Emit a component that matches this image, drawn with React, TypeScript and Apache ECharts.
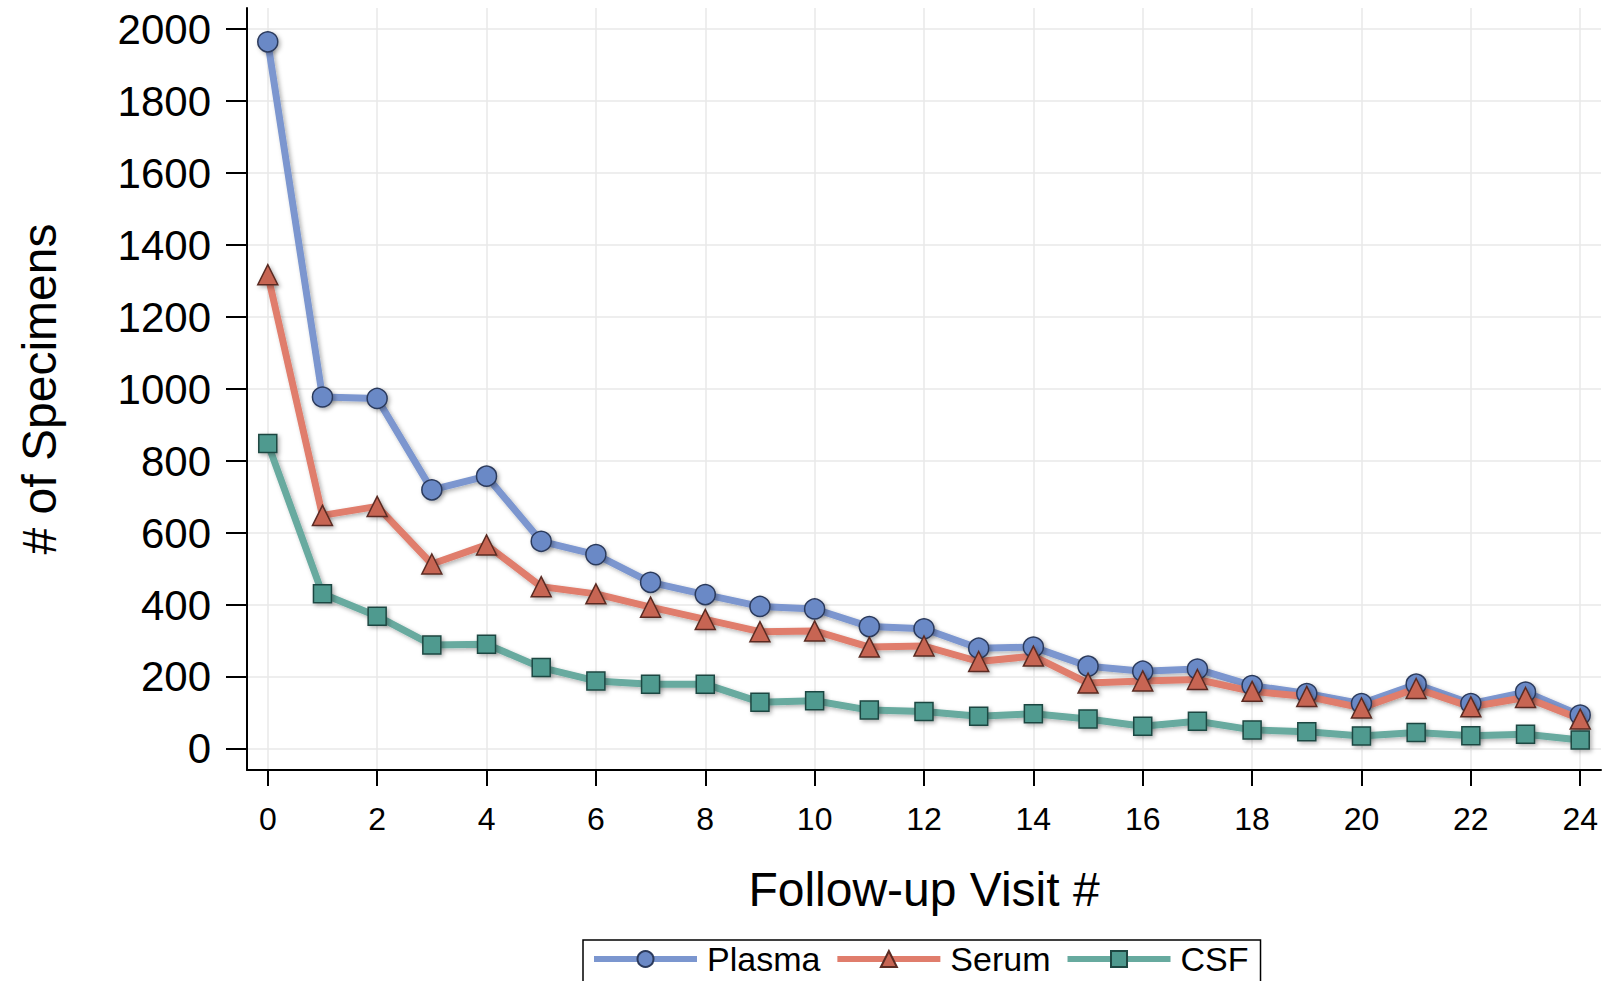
import React, { useEffect, useRef } from "react";
import * as echarts from "echarts";

const visits = [0, 1, 2, 3, 4, 5, 6, 7, 8, 9, 10, 11, 12, 13, 14, 15, 16, 17, 18, 19, 20, 21, 22, 23, 24];
const plasma = [1965, 978, 974, 720, 758, 577, 540, 463, 429, 396, 389, 340, 334, 280, 283, 230, 216, 222, 176, 154, 126, 180, 126, 158, 94];
const serum = [1318, 649, 674, 514, 567, 451, 431, 394, 360, 326, 328, 283, 286, 243, 258, 183, 189, 193, 160, 146, 114, 168, 117, 143, 83];
const csf = [849, 431, 369, 289, 291, 226, 189, 180, 180, 130, 134, 108, 104, 91, 98, 83, 63, 77, 53, 48, 36, 46, 37, 41, 25];
const xTicks = [0, 2, 4, 6, 8, 10, 12, 14, 16, 18, 20, 22, 24];
const yTicks = [0, 200, 400, 600, 800, 1000, 1200, 1400, 1600, 1800, 2000];
const seriesNames = ["Plasma", "Serum", "CSF"];

const FONT = "'Liberation Sans', Arial, Helvetica, sans-serif";

export default function App() {
  const ref = useRef<HTMLDivElement>(null);
  useEffect(() => {
    if (!ref.current) return;
    const chart = echarts.init(ref.current, null, { renderer: "svg" });
    const shadow = { shadowColor: "rgba(0,0,0,0.3)", shadowBlur: 4, shadowOffsetX: 2, shadowOffsetY: 2 };
    const mk = (name: string, data: number[], symbol: string, line: string, fill: string, border: string) => ({
      name,
      type: "line",
      data: visits.map((v, i) => [v, data[i]]),
      symbol,
      symbolSize: symbol === "triangle" ? 20 : symbol === "rect" ? 18 : 20,
      lineStyle: { color: line, width: 7, ...shadow },
      itemStyle: { color: fill, borderColor: border, borderWidth: 1.5, ...shadow },
    });
    chart.setOption({
      animation: false,
      textStyle: { fontFamily: FONT },
      grid: { left: 247, right: 8, top: 8, bottom: 211, containLabel: false },
      xAxis: {
        type: "value",
        min: -0.38,
        max: 24.38,
        name: "Follow-up Visit #",
        nameLocation: "middle",
        nameGap: 95,
        nameTextStyle: { fontSize: 48, color: "#000", fontFamily: FONT },
        axisLine: { show: true, onZero: false, lineStyle: { color: "#000", width: 2 } },
        axisTick: { show: true, length: 16, lineStyle: { color: "#000", width: 2 }, customValues: xTicks },
        axisLabel: { fontSize: 32, color: "#000", margin: 33, customValues: xTicks, fontFamily: FONT, formatter: (v: number) => String(v) },
        splitLine: { show: true, lineStyle: { color: "#e9e9e9", width: 1.5 } },
      },
      yAxis: {
        type: "value",
        min: -58.5,
        max: 2059,
        name: "# of Specimens",
        nameLocation: "middle",
        nameGap: 184,
        nameTextStyle: { fontSize: 48, color: "#000", fontFamily: FONT },
        axisLine: { show: true, onZero: false, lineStyle: { color: "#000", width: 2 } },
        axisTick: { show: true, length: 21, lineStyle: { color: "#000", width: 2 }, customValues: yTicks },
        axisLabel: { fontSize: 42, color: "#000", margin: 36, customValues: yTicks, fontFamily: FONT, formatter: (v: number) => String(v) },
        splitLine: { show: true, lineStyle: { color: "#e9e9e9", width: 1.5 } },
      },
      legend: {
        data: seriesNames,
        left: 583,
        top: 940,
        orient: "horizontal",
        itemWidth: 103,
        itemHeight: 20,
        itemGap: 14,
        padding: [2, 12, 8, 8],
        borderColor: "#000",
        borderWidth: 1.5,
        lineStyle: { width: 6 },
        textStyle: { fontSize: 34, color: "#000", fontFamily: FONT, padding: [0, 0, 0, 5] },
      },
      series: [
        mk(seriesNames[0], plasma, "circle", "#7b96cf", "#6b89c6", "#2b3a5c"),
        mk(seriesNames[1], serum, "triangle", "#e07d6c", "#c76553", "#5a2b22"),
        mk(seriesNames[2], csf, "rect", "#67aa9f", "#4f9a8f", "#1e4742"),
      ],
    });
    return () => chart.dispose();
  }, []);
  return (
    <div
      ref={ref}
      style={{ position: "absolute", left: 0, top: 0, width: 1609, height: 981, background: "#fff" }}
    />
  );
}
